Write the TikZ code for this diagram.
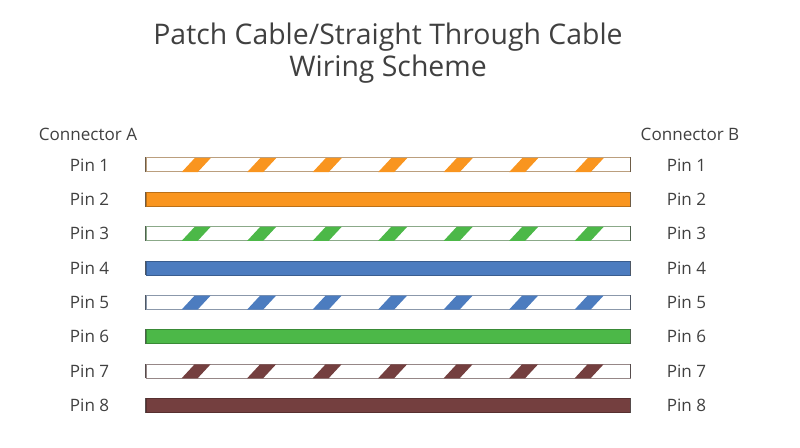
\documentclass[tikz,border=0pt]{standalone}
\usepackage{fontspec}
\setmainfont{Open Sans}
\usepackage{tikz}
\usetikzlibrary{matrix}
\definecolor{wireorange}{HTML}{F9951F}
\definecolor{wiregreen}{HTML}{4CB848}
\definecolor{wireblue}{HTML}{4C7CBF}
\definecolor{wirebrown}{HTML}{743F3F}
\definecolor{textgrey}{HTML}{404040}
\tikzset{
  pinlabel/.style={minimum width=45pt, minimum height=10.5pt, inner sep=0pt, text=textgrey, font=\fontsize{12.8}{14}\selectfont},
  wirebar/.style={minimum width=363pt, minimum height=10.5pt, inner sep=0pt},
  plainbar/.style={wirebar, fill=#1, draw=#1!75!black, line width=0.5pt},
  stripedbar/.style={wirebar, fill=white, draw=#1!35!gray!80, line width=0.6pt},
  barend/.style={draw=#1!25!black!75, line width=0.9pt},
  headlabel/.style={text=textgrey, font=\fontsize{12.8}{14}\selectfont, inner sep=0pt}
}
\begin{document}
\begin{tikzpicture}[x=0.75pt, y=-0.75pt]
  \useasboundingbox (0,0) rectangle (800,447);
  \node (title) [text=textgrey, align=center, inner sep=0pt, font=\fontsize{21.3}{24.4}\selectfont] at (388,53) {Patch Cable/Straight Through Cable\\Wiring Scheme};
  \node (connA) [headlabel] at (88,134.5) {Connector A};
  \node (connB) [headlabel] at (690,134.5) {Connector B};
  \matrix (m) [matrix of nodes, row sep=14.71pt, column sep=19.5pt, nodes={anchor=center}] at (388,285)
  {
|[pinlabel]| Pin 1 & |[stripedbar=wireorange]| & |[pinlabel]| Pin 1 \\
|[pinlabel]| Pin 2 & |[plainbar=wireorange]|   & |[pinlabel]| Pin 2 \\
|[pinlabel]| Pin 3 & |[stripedbar=wiregreen]|  & |[pinlabel]| Pin 3 \\
|[pinlabel]| Pin 4 & |[plainbar=wireblue]|     & |[pinlabel]| Pin 4 \\
|[pinlabel]| Pin 5 & |[stripedbar=wireblue]|   & |[pinlabel]| Pin 5 \\
|[pinlabel]| Pin 6 & |[plainbar=wiregreen]|    & |[pinlabel]| Pin 6 \\
|[pinlabel]| Pin 7 & |[stripedbar=wirebrown]|  & |[pinlabel]| Pin 7 \\
|[pinlabel]| Pin 8 & |[plainbar=wirebrown]|    & |[pinlabel]| Pin 8 \\
};
  \foreach \row/\wire in {1/wireorange,3/wiregreen,5/wireblue,7/wirebrown}
    \foreach \k in {0,...,6}
      \fill [\wire, shift={(m-\row-2.south west)}]
        (36+65.5*\k,0) -- (52+65.5*\k,0) -- (65+65.5*\k,-14) -- (49+65.5*\k,-14) -- cycle;
  \foreach \row/\wire in {1/wireorange,2/wireorange,3/wiregreen,4/wireblue,5/wireblue,6/wiregreen,7/wirebrown,8/wirebrown}
    \draw [barend=\wire] (m-\row-2.south west) -- (m-\row-2.north west)
      (m-\row-2.south east) -- (m-\row-2.north east);
\end{tikzpicture}
\end{document}
